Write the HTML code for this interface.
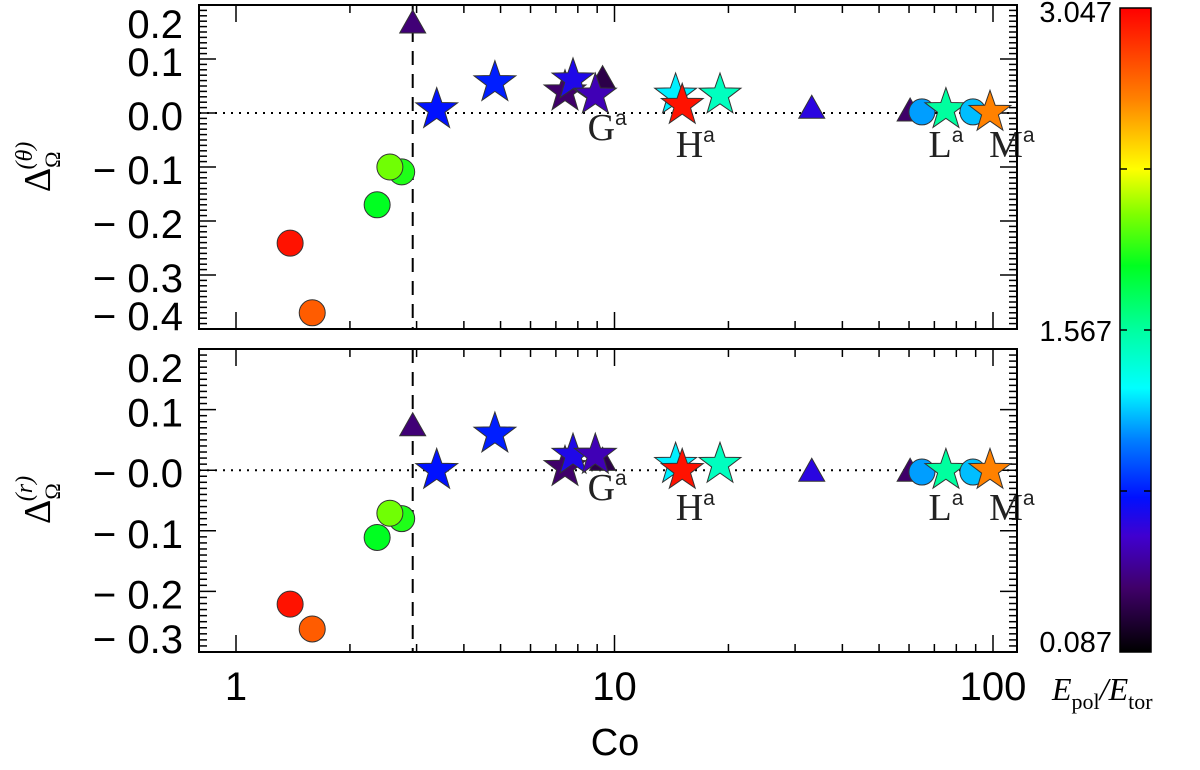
<!DOCTYPE html>
<html><head><meta charset="utf-8">
<style>
html,body{margin:0;padding:0;background:#fff;}
svg{display:block;font-family:"Liberation Sans",sans-serif;}
</style></head>
<body>
<svg id="chart" width="1200" height="770" viewBox="0 0 1200 770" xmlns="http://www.w3.org/2000/svg">
<defs>
<linearGradient id="cmap" x1="0" y1="1" x2="0" y2="0">
<stop offset="0" stop-color="#000000"/><stop offset="0.1" stop-color="#40006a"/>
<stop offset="0.18" stop-color="#4000d0"/><stop offset="0.24" stop-color="#0010ff"/>
<stop offset="0.33" stop-color="#0080ff"/><stop offset="0.41" stop-color="#00ffff"/>
<stop offset="0.5" stop-color="#00ffa0"/><stop offset="0.6" stop-color="#00ff20"/>
<stop offset="0.68" stop-color="#80ff00"/><stop offset="0.75" stop-color="#ffff00"/>
<stop offset="0.86" stop-color="#ff8000"/><stop offset="1" stop-color="#ff0000"/>
</linearGradient>
</defs>
<g id="layer"></g>
</svg>
<script>
// ---- data ----
const shapes = ['c','c','c','c','c','t','s','s','t','s','s','s','s','s','s','t','t','c','s','c','s'];
const coValues = [1.39,1.59,2.36,2.74,2.55,2.93,3.39,4.83,9.3,7.4,7.77,8.9,14.5,15.1,19.0,33.2,60.4,64.9,75.1,88.5,98.2];
const energyRatio = [2.99,2.75,1.86,1.92,2.07,0.41,0.80,0.83,0.29,0.38,0.71,0.56,1.27,2.99,1.48,0.68,0.38,1.12,1.57,1.18,2.63];
const deltaTheta = [-0.241,-0.37,-0.17,-0.109,-0.10,0.163,0.01,0.06,0.06,0.043,0.065,0.037,0.037,0.018,0.037,0.005,0.0,0.002,0.01,0.002,0.005];
const deltaR = [-0.221,-0.262,-0.111,-0.08,-0.071,0.07,0.003,0.063,0.013,0.008,0.028,0.028,0.013,0.003,0.013,-0.005,-0.005,-0.003,0.003,-0.003,0.003];
const yTicksTop = [0.2,0.1,0.0,-0.1,-0.2,-0.3,-0.4];
const yLabelsTop = ['0.2','0.1','0.0','− 0.1','− 0.2','− 0.3','− 0.4'];
const yTicksBot = [0.2,0.1,0.0,-0.1,-0.2,-0.3];
const yLabelsBot = ['0.2','0.1','− 0.0','− 0.1','− 0.2','− 0.3'];
const xTickLabels = [1,10,100];
const cbarLabels = ['3.047','1.567','0.087'];
const cbarMin = 0.087, cbarMax = 3.047;
const pointLabels = [{t:'G',co:9.3},{t:'H',co:15.9},{t:'L',co:74},{t:'M',co:107}];
const dashCo = 2.93;

// ---- geometry ----
const X0=199, X1=1017;
const xS = co => 236 + Math.log10(co)*378.5;
const panels = [
  {top:5,bot:329,ymin:-0.4,ymax:0.2,ys:deltaTheta,ticks:yTicksTop,labels:yLabelsTop,name:'top-panel',lab:'θ',labY:167,txtY:140},
  {top:349,bot:652,ymin:-0.3,ymax:0.2,ys:deltaR,ticks:yTicksBot,labels:yLabelsBot,name:'bottom-panel',lab:'r',labY:500,txtY:500}
];
const stops=[[0,[0,0,0]],[0.1,[64,0,106]],[0.18,[64,0,208]],[0.24,[0,16,255]],[0.33,[0,128,255]],[0.41,[0,255,255]],[0.5,[0,255,160]],[0.6,[0,255,32]],[0.68,[128,255,0]],[0.75,[255,255,0]],[0.86,[255,128,0]],[1,[255,0,0]]];
function cmap(v){let f=(v-cbarMin)/(cbarMax-cbarMin);f=Math.max(0,Math.min(1,f));
 for(let i=1;i<stops.length;i++){if(f<=stops[i][0]){const a=stops[i-1],b=stops[i],t=(f-a[0])/(b[0]-a[0]);
 const c=a[1].map((x,k)=>Math.round(x+(b[1][k]-x)*t));return `rgb(${c})`;}}return 'rgb(255,0,0)';}

const NS='http://www.w3.org/2000/svg';
const layer=document.getElementById('layer');
function el(tag,attrs,parent){const e=document.createElementNS(NS,tag);for(const k in attrs)e.setAttribute(k,attrs[k]);(parent||layer).appendChild(e);return e;}

function starPts(cx,cy,R){const r=R*0.4;let p=[];for(let i=0;i<10;i++){const a=-Math.PI/2+i*Math.PI/5,rr=i%2?r:R;p.push((cx+rr*Math.cos(a)).toFixed(1)+','+(cy+rr*Math.sin(a)).toFixed(1));}return p.join(' ');}

panels.forEach((P,pi)=>{
  const yS=v=>P.bot-(v-P.ymin)/(P.ymax-P.ymin)*(P.bot-P.top);
  const g=el('g',{});
  
  
  const z=el('line',{x1:X0,x2:X1,y1:yS(0),y2:yS(0),stroke:'#000','stroke-width':2,'stroke-dasharray':'2 6'},g);
  
  
  const d=el('line',{x1:xS(dashCo),x2:xS(dashCo),y1:P.top,y2:P.bot,stroke:'#000','stroke-width':2,'stroke-dasharray':'14 9'},g);
  
  
  for(let v=Math.ceil(P.ymin*100);v<=Math.floor(P.ymax*100+0.001);v++){
    const y=yS(v/100),major=v%10===0,L=major?17:8;
    el('line',{x1:X0,x2:X0+L,y1:y,y2:y,stroke:'#000','stroke-width':1.5},g);
    el('line',{x1:X1,x2:X1-L,y1:y,y2:y,stroke:'#000','stroke-width':1.5},g);
  }
  P.ticks.forEach((v,i)=>{
    let y=Math.max(P.top+16,Math.min(P.bot-16,yS(v)));
    const t=el('text',{x:183,y:y+17,'text-anchor':'end','font-size':40},g);
    t.textContent=P.labels[i];
    
    
  });
  for(let dec=0;dec<=2;dec++)for(let m=1;m<=9;m++){
    const co=m*Math.pow(10,dec);const x=xS(co);if(x<X0||x>X1)continue;
    const L=m===1?17:8;
    el('line',{x1:x,x2:x,y1:P.bot,y2:P.bot-L,stroke:'#000','stroke-width':1.5},g);
    el('line',{x1:x,x2:x,y1:P.top,y2:P.top+L,stroke:'#000','stroke-width':1.5},g);
  }
  coValues.forEach((co,i)=>{
    const x=xS(co),y=yS(P.ys[i]),fill=cmap(energyRatio[i]);let m;
    if(shapes[i]==='c')m=el('circle',{cx:x,cy:y,r:13,fill,stroke:'#333','stroke-width':1},g);
    else if(shapes[i]==='t')m=el('polygon',{points:`${x-13},${y+8} ${x+13},${y+8} ${x},${y-15}`,fill,stroke:'#333','stroke-width':1},g);
    else m=el('polygon',{points:starPts(x,y+2,22),fill,stroke:'#333','stroke-width':1},g);
    
    
  });
  pointLabels.forEach(L=>{
    const t=el('text',{x:xS(L.co)-15,y:P.txtY+(pi===0&&L.t!=='G'?17:0)+(pi===1&&L.t!=='G'?20:0),'font-size':38,fill:'#222','font-family':'Liberation Serif, serif'},g);
    t.textContent=L.t;
    const s=el('tspan',{dy:-15,'font-size':21,'font-family':'Liberation Sans, sans-serif'},t);s.textContent='a';
    
    
  });
  const f=el('rect',{x:X0,y:P.top,width:X1-X0,height:P.bot-P.top,fill:'none',stroke:'#000','stroke-width':2},g);
  
  
  const yl=el('text',{transform:`translate(50,${P.labY}) rotate(-90)`,'text-anchor':'middle','font-size':38,'font-family':'Liberation Serif, serif'},g);
  yl.textContent='Δ';
  const s1=el('tspan',{dy:10,'font-size':22},yl);s1.textContent='Ω';
  const s2=el('tspan',{dx:-18,dy:-28,'font-size':24,'font-style':'italic'},yl);s2.textContent='('+P.lab+')';
  
  
});
xTickLabels.forEach(v=>{
  const t=el('text',{x:xS(v),y:700,'text-anchor':'middle','font-size':40});
  t.textContent=String(v);
  
  
});
const xt=el('text',{x:615,y:755,'text-anchor':'middle','font-size':38});
xt.textContent='Co';


const cb=el('rect',{x:1120,y:8,width:31,height:644,fill:'url(#cmap)',stroke:'#000','stroke-width':1.5});


[0.25,0.5,0.75].forEach(f=>{const y=652-f*644;
 el('line',{x1:1120,x2:1127,y1:y,y2:y,stroke:'#000','stroke-width':1.5});
 el('line',{x1:1151,x2:1144,y1:y,y2:y,stroke:'#000','stroke-width':1.5});});
const cbY=[22,341,652];
cbarLabels.forEach((s,i)=>{
  const t=el('text',{x:1112,y:cbY[i],'text-anchor':'end','font-size':29});
  t.textContent=s;
  
  
});
const ct=el('text',{x:1052,y:700,'font-size':32,'font-style':'italic','font-family':'Liberation Serif, serif'});
ct.textContent='E';
const c1=el('tspan',{dy:9,'font-size':22,'font-style':'normal'},ct);c1.textContent='pol';
const c2=el('tspan',{dy:-9},ct);c2.textContent='/E';
const c3=el('tspan',{dy:9,'font-size':22,'font-style':'normal'},ct);c3.textContent='tor';


</script>
</body></html>
